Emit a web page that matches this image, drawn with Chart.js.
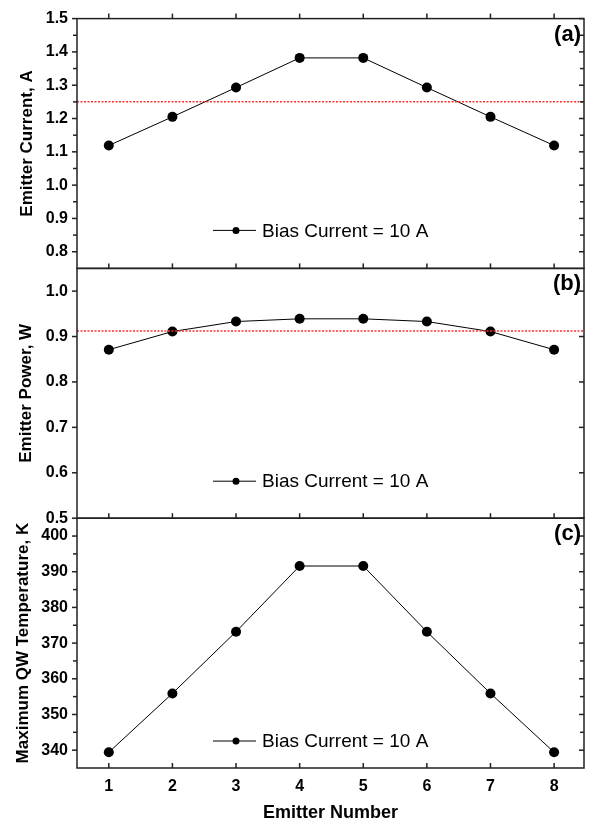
<!DOCTYPE html>
<html>
<head>
<meta charset="utf-8">
<script src="https://cdn.jsdelivr.net/npm/chart.js@4.4.0/dist/chart.umd.min.js"></script>
<style>
  html, body { margin: 0; padding: 0; background: #fff; }
  #wrap { width: 589px; height: 825px; position: relative; }
</style>
</head>
<body>
<div id="wrap"><canvas id="chart"></canvas></div>
<script>
// Données
const emitters = [1, 2, 3, 4, 5, 6, 7, 8];
const currentA = [1.119, 1.205, 1.293, 1.382, 1.382, 1.293, 1.205, 1.119];
const powerW = [0.871, 0.911, 0.933, 0.939, 0.939, 0.933, 0.911, 0.871];
const tempK = [339.4, 355.9, 373.2, 391.6, 391.6, 373.2, 355.9, 339.4];
const avgCurrent = 1.25;
const avgPower = 0.912;

// Graduations
const xTicks = [1, 2, 3, 4, 5, 6, 7, 8];
const xRange = [0.5, 8.47];
const currentTicks = [0.8, 0.9, 1.0, 1.1, 1.2, 1.3, 1.4, 1.5];
const currentMinor = [0.75, 0.85, 0.95, 1.05, 1.15, 1.25, 1.35, 1.45];
const powerTicks = [0.5, 0.6, 0.7, 0.8, 0.9, 1.0];
const tempTicks = [340, 350, 360, 370, 380, 390, 400];
const tempMinor = [335, 345, 355, 365, 375, 385, 395];

const legendText = 'Bias Current = 10 A';
const FONT = '"Liberation Sans", Arial, Helvetica, sans-serif';

const panels = [
    { id: 'yA', letter: '(a)', major: currentTicks, minor: currentMinor, legendUp: 38 },
    { id: 'yB', letter: '(b)', major: powerTicks, minor: [], legendUp: 37 },
    { id: 'yC', letter: '(c)', major: tempTicks, minor: tempMinor, legendUp: 27 }
];

function pts(ys) {
    return emitters.map((x, i) => ({ x: x, y: ys[i] }));
}
function flat(v) {
    return xRange.map(x => ({ x: x, y: v }));
}

function yAxis(ticks, min, max, title, titlePad, fmt) {
    return {
        type: 'linear',
        position: 'left',
        stack: 'panels',
        stackWeight: 1,
        min: min,
        max: max,
        afterBuildTicks: s => { s.ticks = ticks.map(v => ({ value: v })); },
        afterFit: s => { s.width = 77; },
        grid: { display: false, drawTicks: false },
        border: { display: false },
        ticks: {
            autoSkip: false,
            padding: 9,
            color: '#000',
            font: { family: FONT, size: 16, weight: 'bold' },
            callback: fmt
        },
        title: {
            display: true,
            text: title,
            color: '#000',
            padding: { top: titlePad, bottom: 0 },
            font: { family: FONT, size: 17, weight: 'bold' }
        }
    };
}

const framePlugin = {
    id: 'frame',
    afterDraw(chart) {
        const { ctx, chartArea: area, scales } = chart;
        const xs = scales.x;
        ctx.save();
        ctx.strokeStyle = '#222';
        ctx.lineWidth = 1.5;
        const line = (x1, y1, x2, y2) => {
            ctx.beginPath(); ctx.moveTo(x1, y1); ctx.lineTo(x2, y2); ctx.stroke();
        };
        panels.forEach(p => {
            const s = scales[p.id];
            ctx.strokeRect(area.left, s.top, area.right - area.left, s.bottom - s.top);
            p.major.forEach(v => {
                const py = s.getPixelForValue(v);
                line(area.left - 5, py, area.left, py);
                line(area.right - 5, py, area.right, py);
            });
            p.minor.forEach(v => {
                const py = s.getPixelForValue(v);
                if (py <= s.top + 1 || py >= s.bottom - 1) return;
                line(area.left - 4, py, area.left, py);
                line(area.right - 4, py, area.right, py);
            });
            xTicks.forEach(v => {
                const px = xs.getPixelForValue(v);
                line(px, s.top, px, s.top - 5);
            });

            // lettre du panneau
            ctx.fillStyle = '#000';
            ctx.font = 'bold 22px ' + FONT;
            ctx.textAlign = 'right';
            ctx.textBaseline = 'middle';
            ctx.fillText(p.letter, area.right - 3, s.top + 16);

            // légende
            const ly = s.bottom - p.legendUp;
            ctx.lineWidth = 1;
            ctx.strokeStyle = '#000';
            line(213, ly, 256, ly);
            ctx.beginPath(); ctx.arc(236, ly, 3.5, 0, Math.PI * 2); ctx.fill();
            ctx.font = '19px ' + FONT;
            ctx.textAlign = 'left';
            ctx.fillText(legendText, 262, ly + 1);
            ctx.lineWidth = 1.5;
            ctx.strokeStyle = '#222';
        });
        xTicks.forEach(v => {
            const px = xs.getPixelForValue(v);
            line(px, area.bottom, px, area.bottom - 5);
        });
        ctx.restore();
    }
};

const dataStyle = {
    borderColor: '#000',
    backgroundColor: '#000',
    borderWidth: 1,
    pointRadius: 5,
    pointBorderWidth: 0,
    pointBackgroundColor: '#000',
    tension: 0
};
const refStyle = {
    borderColor: '#ff3030',
    borderWidth: 1.5,
    borderDash: [2, 1.5],
    pointRadius: 0
};

new Chart(document.getElementById('chart'), {
    type: 'line',
    data: {
        datasets: [
            Object.assign({ label: 'avgA', data: flat(avgCurrent), yAxisID: 'yA' }, refStyle),
            Object.assign({ label: 'avgB', data: flat(avgPower), yAxisID: 'yB' }, refStyle),
            Object.assign({ label: legendText, data: pts(currentA), yAxisID: 'yA' }, dataStyle),
            Object.assign({ label: legendText, data: pts(powerW), yAxisID: 'yB' }, dataStyle),
            Object.assign({ label: legendText, data: pts(tempK), yAxisID: 'yC' }, dataStyle)
        ]
    },
    options: {
        responsive: true,
        maintainAspectRatio: false,
        animation: false,
        layout: { padding: { top: 16, right: 4, left: 0, bottom: 0 } },
        plugins: { legend: { display: false }, tooltip: { enabled: false } },
        scales: {
            x: {
                type: 'linear',
                min: xRange[0],
                max: xRange[1],
                afterBuildTicks: s => { s.ticks = xTicks.map(v => ({ value: v })); },
                afterFit: s => { s.height = 57; },
                grid: { display: false, drawTicks: false },
                border: { display: false },
                ticks: {
                    padding: 9,
                    color: '#000',
                    font: { family: FONT, size: 16, weight: 'bold' }
                },
                title: {
                    display: true,
                    text: 'Emitter Number',
                    color: '#000',
                    padding: { top: 0, bottom: 1 },
                    font: { family: FONT, size: 18, weight: 'bold' }
                }
            },
            // l'ordre est inversé : la dernière échelle se place en haut
            yC: yAxis(tempTicks, 335, 405, 'Maximum QW Temperature, K', 13.5, v => String(v)),
            yB: yAxis(powerTicks, 0.5, 1.05, 'Emitter Power, W', 16.5, v => v.toFixed(1)),
            yA: yAxis(currentTicks, 0.75, 1.5, 'Emitter Current, A', 17.5, v => v.toFixed(1))
        }
    },
    plugins: [framePlugin]
});
</script>
</body>
</html>
